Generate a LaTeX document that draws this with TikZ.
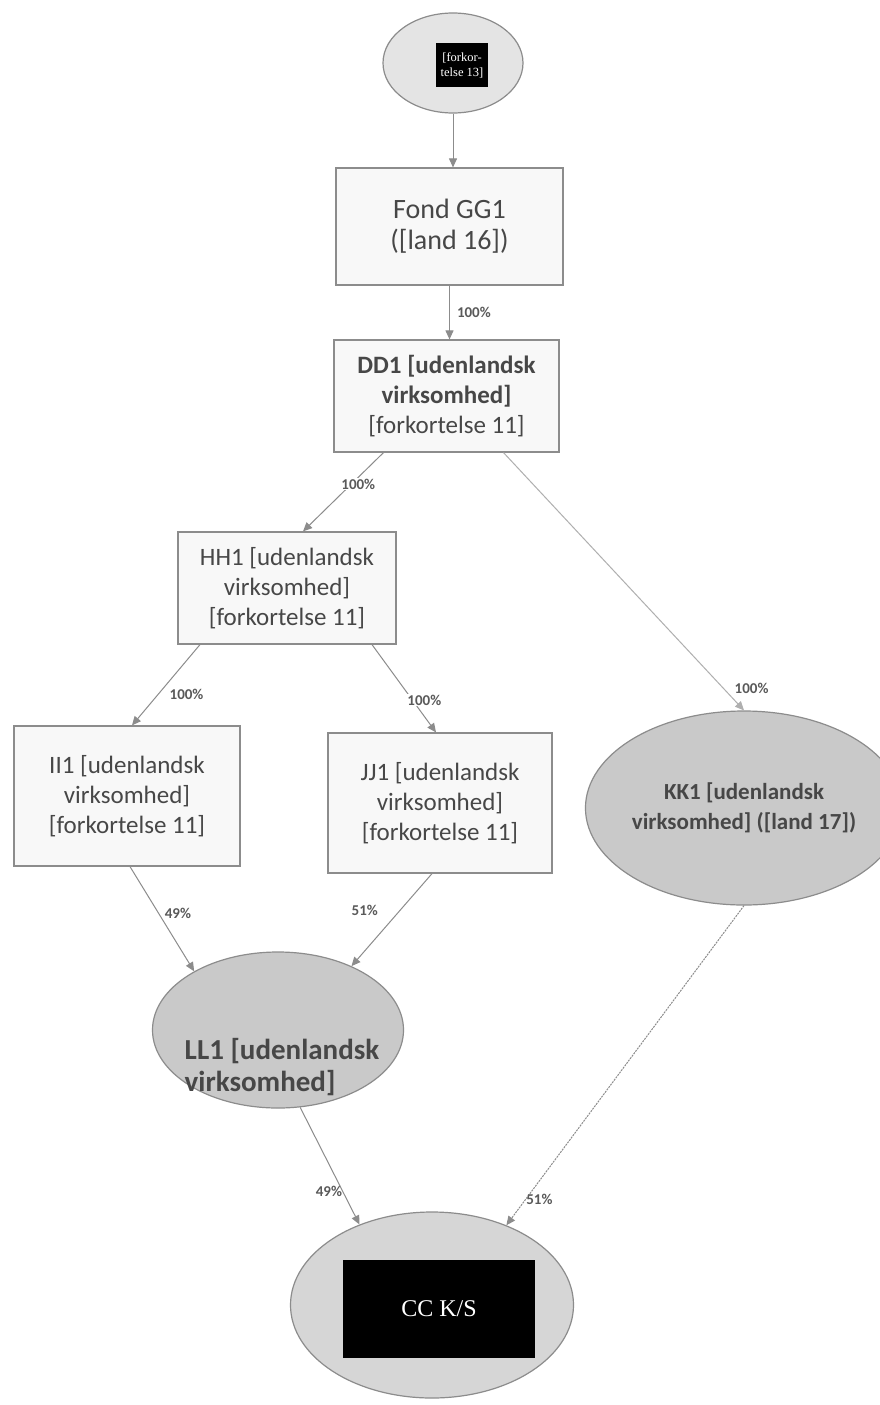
\documentclass[tikz,border=0pt]{standalone}
\usepackage{fontspec}
\setmainfont{Carlito}
\newfontfamily\tagfont{Liberation Serif}
\usetikzlibrary{arrows.meta,shapes.geometric}

\definecolor{edge}{HTML}{8C8C8C}
\definecolor{ink}{HTML}{474747}
\definecolor{boxfill}{HTML}{F8F8F8}
\definecolor{topfill}{HTML}{E4E4E4}
\definecolor{midfill}{HTML}{C9C9C9}
\definecolor{lowfill}{HTML}{D6D6D6}
\definecolor{pctink}{HTML}{5A5A5A}

\begin{document}
\begin{tikzpicture}[x=1pt,y=-1pt,
	box/.style={draw=edge,line width=1.2pt,fill=boxfill,text=ink,align=center,inner sep=0pt,font=\fontsize{25}{30}\selectfont},
	blob/.style={ellipse,draw=edge,line width=1.2pt,inner sep=0pt},
	tag/.style={fill=black,text=white,align=center,inner sep=0pt,font=\tagfont},
	link/.style={draw=edge,line width=1pt,-{Triangle[width=8pt,length=9pt]}},
	pct/.style={font=\fontsize{15}{15}\selectfont\bfseries,text=pctink,inner sep=1pt}]
\useasboundingbox[fill=white] (0,0) rectangle (880,1405);

% owners
\node[blob,fill=topfill,minimum width=140pt,minimum height=100pt] (f13) at (453,63) {};
\node[tag,minimum width=52pt,minimum height=43pt,font=\tagfont\fontsize{12.5}{15}\selectfont] (f13tag) at (462,65) {{[forkor-}\\telse 13]};

\node[box,minimum width=227pt,minimum height=117pt,font=\fontsize{28}{31}\selectfont] (gg1) at (449.5,226.5) {Fond GG1\\([land 16])};
\node[box,minimum width=225pt,minimum height=112pt] (dd1) at (446.5,396) {\textbf{DD1 [udenlandsk}\\\textbf{virksomhed]}\\{}[forkortelse 11]};
\node[box,minimum width=218pt,minimum height=112pt] (hh1) at (287,588) {HH1 [udenlandsk\\virksomhed]\\{}[forkortelse 11]};
\node[box,minimum width=226pt,minimum height=140pt] (ii1) at (127,796) {II1 [udenlandsk\\virksomhed]\\{}[forkortelse 11]};
\node[box,minimum width=224pt,minimum height=140pt] (jj1) at (440,803) {JJ1 [udenlandsk\\virksomhed]\\{}[forkortelse 11]};

\node[blob,fill=midfill,minimum width=272pt,minimum height=194pt,text=ink,align=center,font=\fontsize{23}{30}\selectfont\bfseries] (kk1) at (744,808) {KK1 [udenlandsk\\virksomhed] ([land 17])};

\node[blob,fill=midfill,minimum width=251pt,minimum height=156pt] (ll1) at (278,1030) {};
\node[text=ink,align=left,inner sep=0pt,font=\fontsize{29}{32}\selectfont\bfseries] (ll1text) at (282,1067) {LL1 [udenlandsk\\virksomhed]};

\node[blob,fill=lowfill,minimum width=283pt,minimum height=186pt] (cc) at (432,1305) {};
\node[tag,minimum width=192pt,minimum height=98pt,font=\tagfont\fontsize{24}{28}\selectfont] (cctag) at (439,1309) {CC K/S};

% ownership links
\draw[link] (f13.south) -- (f13.south |- gg1.north);
\draw[link] (gg1.south) -- (gg1.south |- dd1.north) node[pct,midway,right=6pt] {100\%};
\draw[link] ([xshift=-63pt]dd1.south) -- ([xshift=16pt]hh1.north) node[pct,pos=0.4,xshift=7pt,fill=white] {100\%};
\draw[link,draw=edge!70] ([xshift=57pt]dd1.south) -- (kk1.north) node[pct,pos=0.915,xshift=28pt] {100\%};
\draw[link] ([xshift=-87pt]hh1.south) -- ([xshift=5pt]ii1.north) node[pct,pos=0.61,xshift=28pt] {100\%};
\draw[link] ([xshift=85pt]hh1.south) -- ([xshift=-4pt]jj1.north) node[pct,pos=0.63,xshift=12pt,fill=white] {100\%};
\draw[link] ([xshift=3pt]ii1.south) -- (ll1.145) node[pct,pos=0.45,xshift=19pt] {49\%};
\draw[link] ([xshift=-8pt]jj1.south) -- (ll1.41) node[pct,pos=0.4,xshift=-35pt] {51\%};
\draw[link] (ll1.-74) -- (cc.132) node[pct,pos=0.72,xshift=-14pt] {49\%};
\draw[link,dash pattern=on 2pt off 1pt] (kk1.south) -- (cc.47) node[pct,pos=0.92,xshift=14pt] {51\%};
\end{tikzpicture}
\end{document}
